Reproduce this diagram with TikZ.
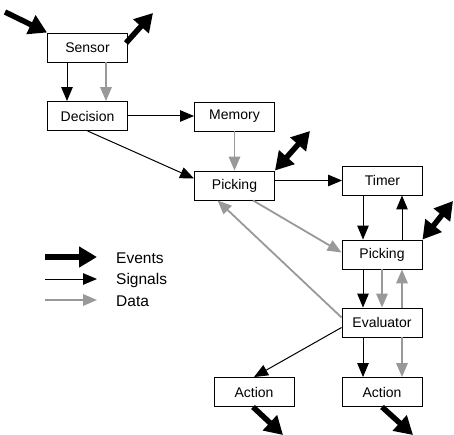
\documentclass[tikz,border=0pt]{standalone}
\usepackage{fontspec}
\setmainfont{Liberation Sans}
\usetikzlibrary{arrows.meta}
\definecolor{datagray}{HTML}{999999}
\tikzset{
  box/.style={draw, line width=0.9pt, minimum width=80pt, minimum height=29pt, inner sep=0pt, font=\fontsize{14}{16}\selectfont},
  sig/.style={draw=black, line width=1pt, -{Triangle[length=14pt,width=11.5pt]}},
  dat/.style={draw=datagray, line width=1.8pt, -{Triangle[length=14pt,width=11.5pt]}, datagray},
  evt/.style={draw=black, line width=5.5pt, -{Triangle[length=18pt,width=20pt]}},
  evtboth/.style={draw=black, line width=5.5pt, {Triangle[length=18pt,width=20pt]}-{Triangle[length=18pt,width=20pt]}},
  legtext/.style={anchor=west, inner sep=0pt, font=\fontsize{15.5}{17}\selectfont}
}
\begin{document}
\begin{tikzpicture}[x=1pt,y=-1pt]
\useasboundingbox (0,0) rectangle (454,435);
% boxes
\node[box] (sensor) at (87.5,47.5) {Sensor};
\node[box] (decision) at (87.5,116) {Decision};
\node[box] (memory) at (234.5,116.5) {Memory};
\node[box] (pick1) at (234.5,185.5) {Picking};
\node[box] (timer) at (382.5,180.5) {Timer};
\node[box] (pick2) at (382,254.5) {Picking};
\node[box] (eval) at (382,322.5) {Evaluator};
\node[box] (act1) at (254,392) {Action};
\node[box] (act2) at (382,392) {Action};
% free ends
\coordinate (sin) at (5,12);
\coordinate (sfrom) at (126,43);
\coordinate (sout) at (153,13);
\coordinate (p1ev) at (310,131);
\coordinate (p2ev) at (453,201);
\coordinate (a1out) at (283,435);
\coordinate (a2out) at (413,435);
% events
\draw[evt] (sin) -- (sensor.north west);
\draw[evt] (sfrom) -- (sout);
\draw[evtboth] (pick1.north east) -- (p1ev);
\draw[evtboth] (pick2.north east) -- (p2ev);
\draw[evt] ([xshift=-1pt]act1.south) -- (a1out);
\draw[evt] (act2.south) -- (a2out);
% signals
\draw[sig] ([xshift=-20.5pt]sensor.south) -- ([xshift=-20.5pt]decision.north);
\draw[dat] ([xshift=18.5pt]sensor.south) -- ([xshift=18.5pt]decision.north);
\draw[sig] (decision.east) -- (decision.east -| memory.west);
\draw[sig] (decision.south) -- ([yshift=7pt]pick1.west);
\draw[dat] (memory.south) -- (pick1.north);
\draw[sig] (pick1.east |- timer.west) -- (timer.west);
\draw[sig] ([xshift=-19.5pt]timer.south) -- ([xshift=-19pt]pick2.north);
\draw[sig] ([xshift=20pt]pick2.north) -- ([xshift=19.5pt]timer.south);
\draw[dat] ([xshift=18.5pt]pick1.south) -- ([yshift=2pt]pick2.west);
\draw[dat] ([yshift=5pt]eval.west) -- ([xshift=-17pt]pick1.south);
\draw[sig] ([xshift=-19pt]pick2.south) -- ([xshift=-19pt]eval.north);
\draw[dat] (pick2.south) -- (eval.north);
\draw[dat] ([xshift=20pt]eval.north) -- ([xshift=20pt]pick2.south);
\draw[sig] ([yshift=-5pt]eval.west) -- (act1.north);
\draw[sig] ([xshift=-19pt]eval.south) -- ([xshift=-19pt]act2.north);
\draw[dat] ([xshift=20pt]eval.south) -- ([xshift=20pt]act2.north);
% legend
\coordinate (l1a) at (45,257);
\coordinate (l1b) at (97,257);
\coordinate (l2a) at (45,279);
\coordinate (l2b) at (97,279);
\coordinate (l3a) at (45,300);
\coordinate (l3b) at (97,300);
\draw[evt] (l1a) -- (l1b);
\draw[sig] (l2a) -- (l2b);
\draw[dat] (l3a) -- (l3b);
\node[legtext] (lev) at (116,258) {Events};
\node[legtext] (lsig) at (116,280) {Signals};
\node[legtext] (ldat) at (116,301) {Data};
\end{tikzpicture}
\end{document}
